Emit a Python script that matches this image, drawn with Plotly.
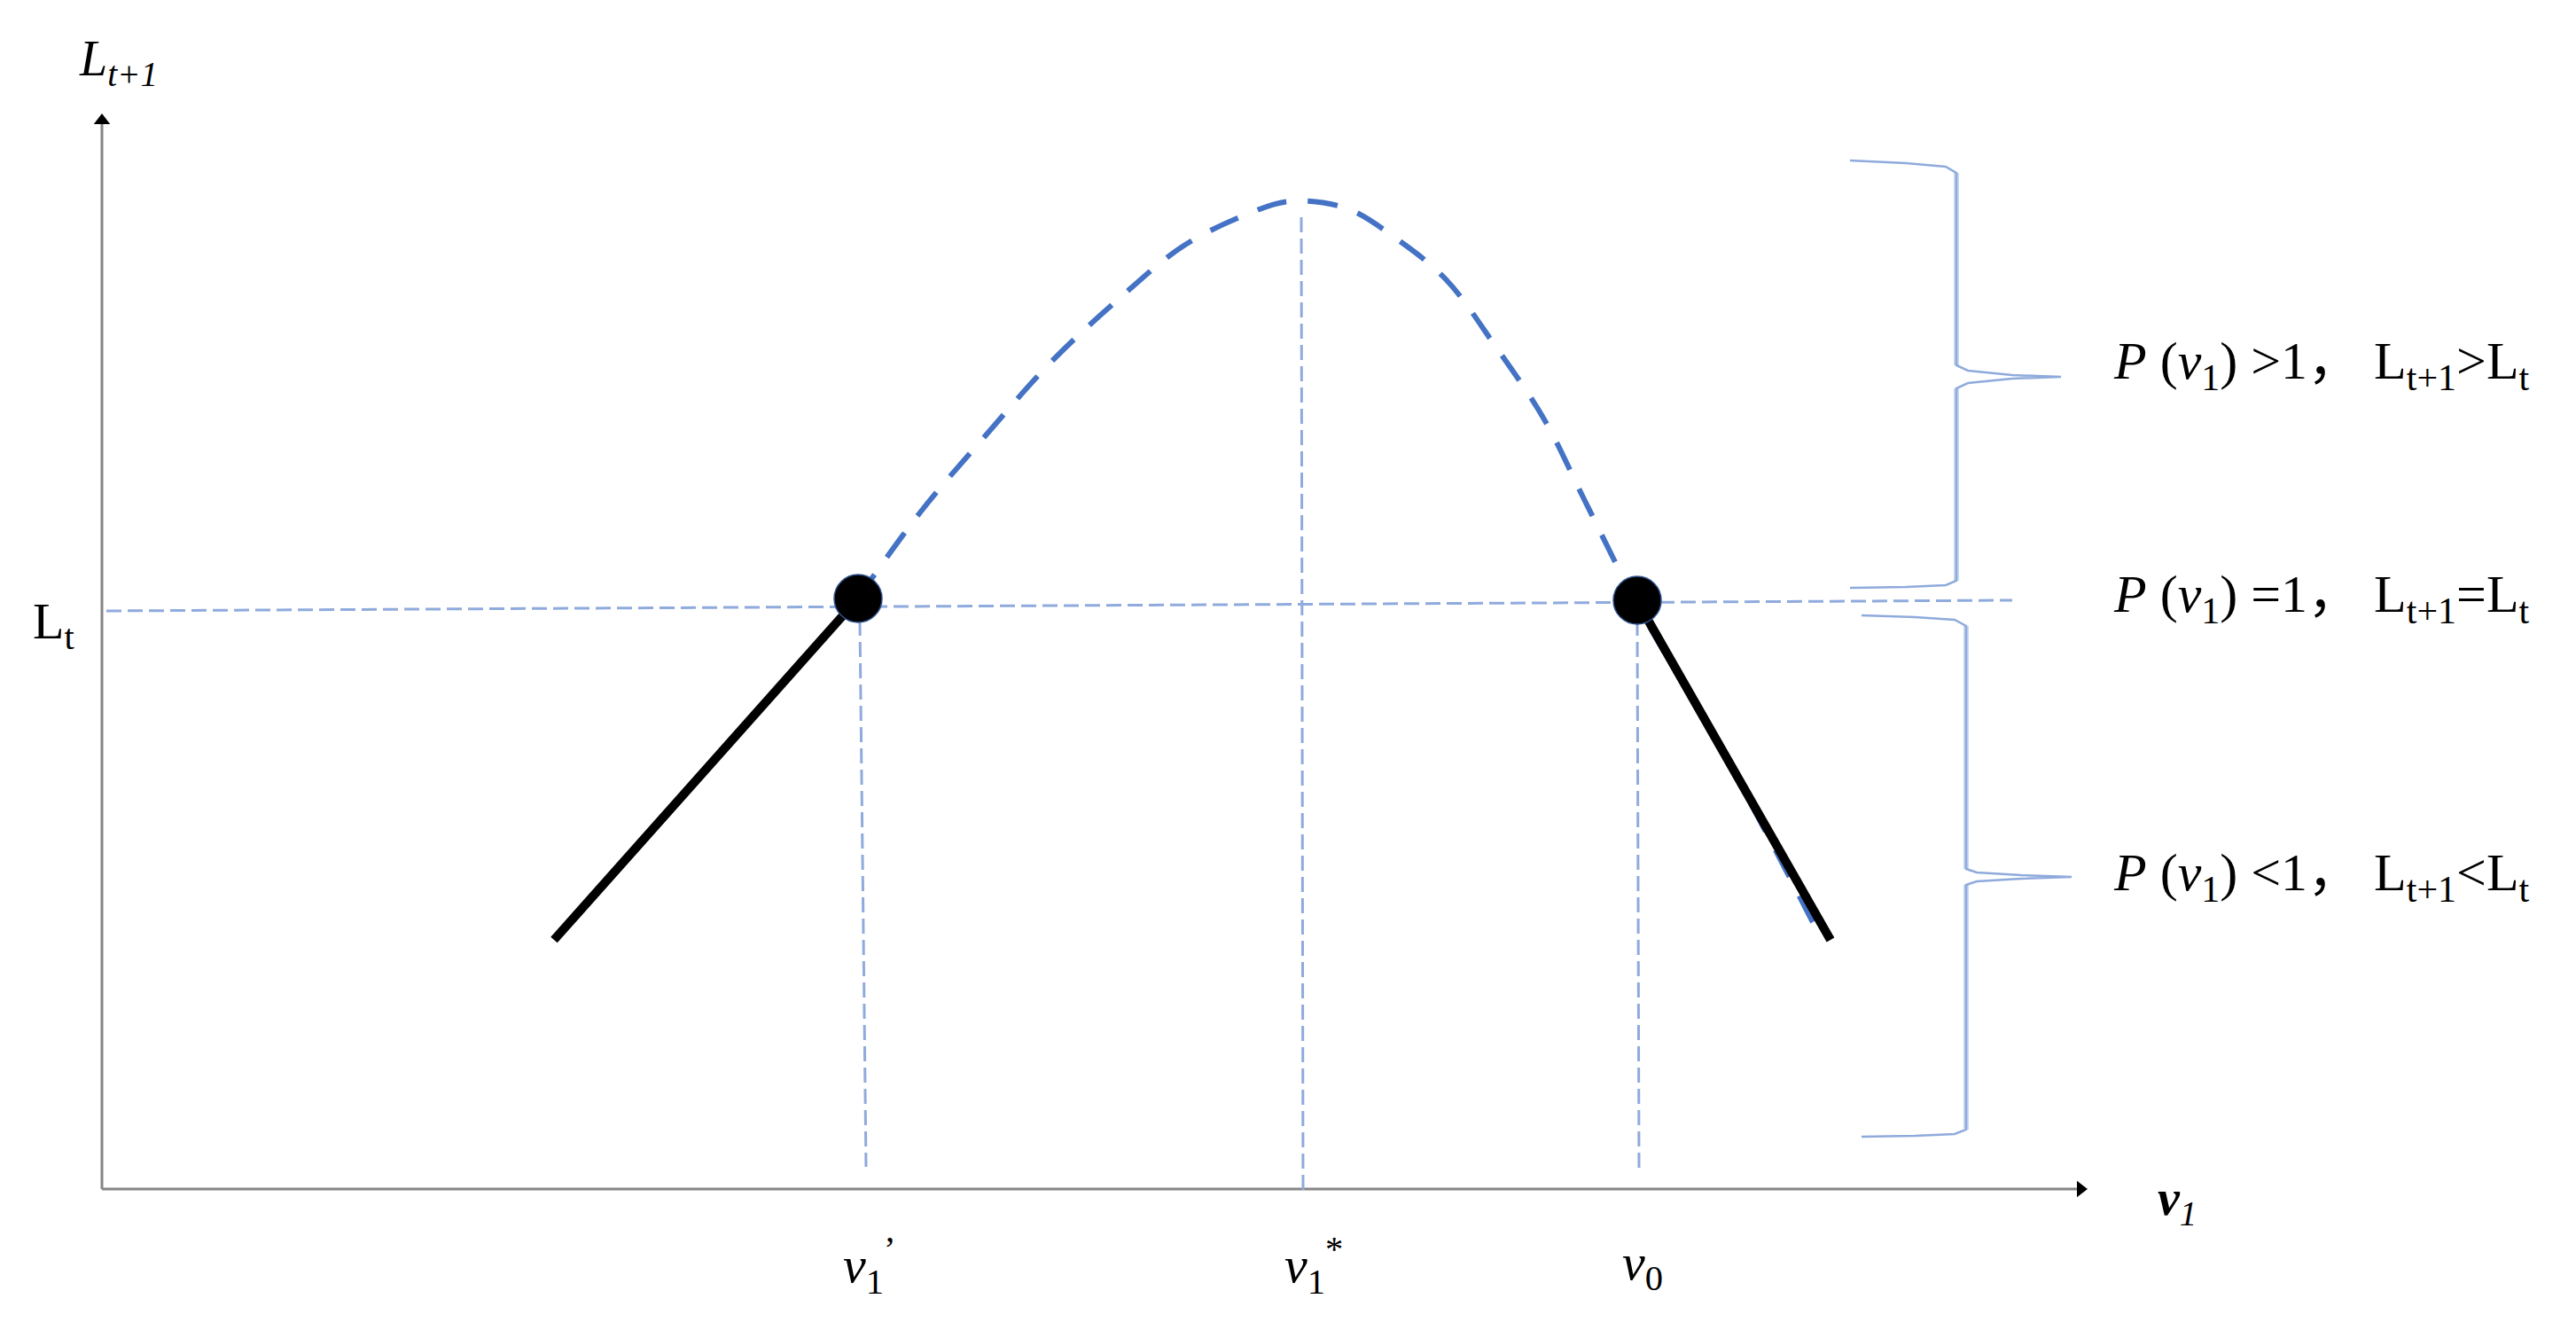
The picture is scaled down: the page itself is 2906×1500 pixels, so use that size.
"""
Diagram: L(t+1) against v1 with the threshold line L(t)
Plotly recreation
"""

import plotly.graph_objects as go


# =========================================================
# Data (units = pixels from the axis origin)
# =========================================================

# dashed hump curve
curve_x = [852, 923, 997, 1071, 1145, 1219, 1293, 1340, 1404, 1460,
           1516, 1571, 1627, 1673, 1731, 1835, 1930]
curve_y = [665, 763, 850, 933, 1002, 1063, 1100, 1114, 1106, 1072,
           1026, 952, 868, 776, 661, 481, 301]

# solid black branches
left_x = [510, 853]
left_y = [281, 666]
right_x = [1732, 1950]
right_y = [663, 281]

# equilibrium points
dot_x = [853, 1732]
dot_y = [666, 664]

# L_t level line
lt_x = [5, 2155]
lt_y = [652, 664]

# vertical guides: v1', v1*, v0
guide_x = [[855, 862], [1353, 1355], [1732, 1734]]
guide_y = [[641, 25], [1096, -5], [641, 23]]

# x tick labels
tick_x = [866, 1367, 1738]
tick_labels = [
    "<i>v</i><sub>1</sub><sup>’</sup>",
    "<i>v</i><sub>1</sub><sup>*</sup>",
    "<i>v</i><sub>0</sub>",
]

# braces
brace_up_x = [1972, 2035, 2080, 2092, 2092, 2105, 2155, 2210,
              2155, 2105, 2092, 2092, 2080, 2035, 1972]
brace_up_y = [1160, 1157, 1153, 1146, 929, 923, 918, 916,
              914, 909, 903, 686, 681, 679, 678]
brace_dn_x = [1985, 2045, 2090, 2103, 2103, 2115, 2165, 2222,
              2165, 2115, 2103, 2103, 2090, 2045, 1985]
brace_dn_y = [647, 645, 642, 635, 361, 357, 354, 352,
              350, 347, 343, 67, 62, 60, 59]

# region labels
region_y = [930, 667, 353]
region_labels = [
    "<i>P</i> (<i>v</i><sub>1</sub>) &gt;1， L<sub>t+1</sub>&gt;L<sub>t</sub>",
    "<i>P</i> (<i>v</i><sub>1</sub>) =1， L<sub>t+1</sub>=L<sub>t</sub>",
    "<i>P</i> (<i>v</i><sub>1</sub>) &lt;1， L<sub>t+1</sub>&lt;L<sub>t</sub>",
]

# axes
x_axis_end = 2232
y_axis_end = 1205


# =========================================================
# Styles
# =========================================================

BLUE = "#4472C4"
LIGHT = "#8FAADC"
PALE = "#C9D7EF"
GREY = "#858585"
FONT = "Liberation Serif, Noto Sans CJK SC, serif"


fig = go.Figure()


def add_line(x, y, color, width, dash="solid", shape="linear"):

    fig.add_trace(go.Scatter(
        x=x, y=y, mode="lines",
        line=dict(color=color, width=width, dash=dash, shape=shape),
        hoverinfo="skip", showlegend=False
    ))


# axes with arrow heads
add_line([0, x_axis_end], [0, 0], GREY, 3)
add_line([0, 0], [0, y_axis_end], GREY, 3)

fig.add_trace(go.Scatter(
    x=[x_axis_end, 0], y=[0, y_axis_end], mode="markers",
    marker=dict(symbol=["triangle-right", "triangle-up"], size=16, color="black"),
    hoverinfo="skip", showlegend=False
))

# guides
add_line(lt_x, lt_y, LIGHT, 3, dash="17px,7px")
for gx, gy in zip(guide_x, guide_y):
    add_line(gx, gy, LIGHT, 3, dash="17px,7px")

# braces
for bx, by in [(brace_up_x, brace_up_y), (brace_dn_x, brace_dn_y)]:
    add_line(bx[3:5], by[3:5], PALE, 6)
    add_line(bx[10:12], by[10:12], PALE, 6)
    add_line(bx, by, LIGHT, 2.5)

# hump curve
add_line(curve_x, curve_y, BLUE, 6, dash="34px,24px", shape="spline")

# solid branches
add_line(left_x, left_y, "black", 10)
add_line(right_x, right_y, "black", 10)

fig.add_trace(go.Scatter(
    x=dot_x, y=dot_y, mode="markers",
    marker=dict(size=54, color="black", line=dict(color="#2F528F", width=1.5)),
    hoverinfo="skip", showlegend=False
))


# =========================================================
# Text
# =========================================================

def add_text(x, y, text, size=58, anchor="center"):

    fig.add_annotation(
        x=x, y=y, text=text, showarrow=False,
        xanchor=anchor, yanchor="middle",
        font=dict(family=FONT, size=size, color="black")
    )


add_text(18, 1271, "<i>L</i><sub><i>t+1</i></sub>", size=56)
add_text(-55, 637, "L<sub>t</sub>", size=58)
add_text(2341, -14, "<b><i>v</i></b><sub><i>1</i></sub>", size=56)

for tx, lab in zip(tick_x, tick_labels):
    add_text(tx, -86, lab, size=58)

for ry, lab in zip(region_y, region_labels):
    add_text(2267, ry, lab, size=60, anchor="left")


# =========================================================
# Layout
# =========================================================

fig.update_layout(
    width=2906,
    height=1500,
    margin=dict(l=0, r=0, t=0, b=0),
    paper_bgcolor="white",
    plot_bgcolor="white",
    xaxis=dict(range=[-115, 2791], visible=False, fixedrange=True),
    yaxis=dict(range=[-159, 1341], visible=False, fixedrange=True),
    showlegend=False
)

fig.write_html(
    "out.html",
    config=dict(displayModeBar=False),
    post_script="document.body.style.margin='0';"
)
